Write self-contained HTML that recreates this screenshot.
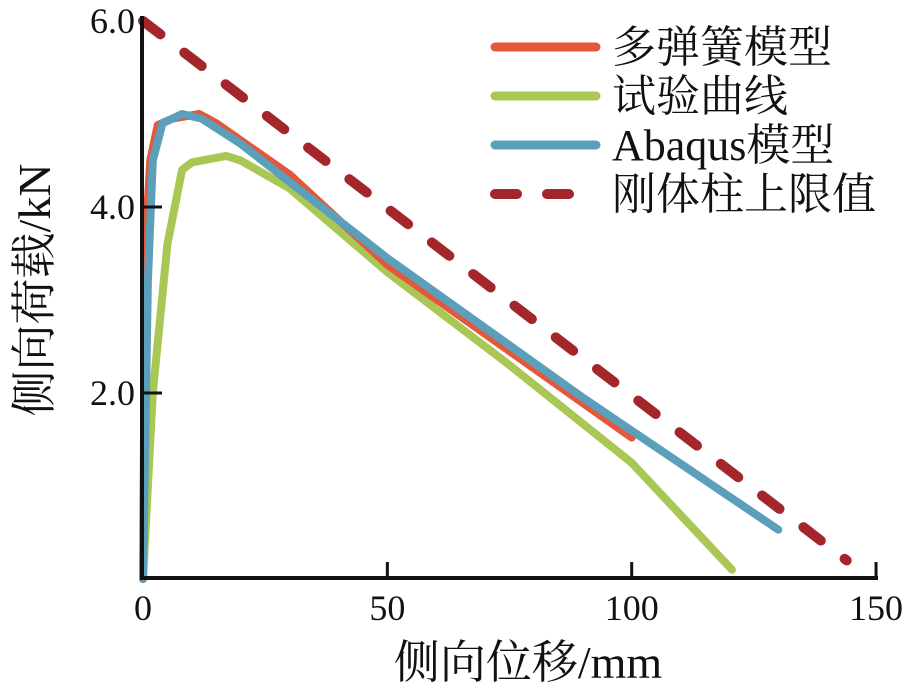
<!DOCTYPE html>
<html><head><meta charset="utf-8"><style>
body{margin:0;background:#fff;}
svg text{font-family:"Liberation Serif","Noto Serif CJK SC",serif;fill:#111;}
</style></head><body>
<svg width="921" height="692">
<g id="plot"></g>
<g>
 <line x1="495" y1="47" x2="596" y2="47" stroke="#e5573a" stroke-width="9" stroke-linecap="round"/>
 <text x="612" y="62" font-size="44">多弹簧模型</text>
 <line x1="495" y1="96" x2="596" y2="96" stroke="#a9c755" stroke-width="9" stroke-linecap="round"/>
 <text x="612" y="111" font-size="44">试验曲线</text>
 <line x1="495" y1="145" x2="596" y2="145" stroke="#5c9fbb" stroke-width="9" stroke-linecap="round"/>
 <text x="612" y="160" font-size="44">Abaqus模型</text>
 <line x1="495" y1="194" x2="596" y2="194" stroke="#a3262a" stroke-width="10" stroke-dasharray="22 30" stroke-linecap="round"/>
 <text x="612" y="209" font-size="44">刚体柱上限值</text>
</g>
</svg>
<script>
const xTicks=[0,50,100,150];
const yTicks=[2.0,4.0,6.0];
const springX=[0,0.5,1.5,3,6,11.5,15,30,50,75,100];
const springY=[0,3.6,4.5,4.88,4.95,5.0,4.9,4.35,3.38,2.45,1.52];
const testX=[0,2,5,8,10,17,20,30,50,75,100,120.5];
const testY=[0,2.0,3.6,4.4,4.48,4.55,4.5,4.2,3.3,2.3,1.25,0.1];
const abaqusX=[0,1,2,4,8,12,20,50,90,130];
const abaqusY=[0,3.2,4.5,4.9,5.0,4.95,4.68,3.45,1.95,0.53];
const rigidX=[0,144];
const rigidY=[6.0,0.2];
const sx=v=>143+v*4.887;
const sy=v=>579-v*93;
const ns="http://www.w3.org/2000/svg";
const g=document.getElementById('plot');
function mk(t,a){const e=document.createElementNS(ns,t);for(const k in a)e.setAttribute(k,a[k]);g.appendChild(e);return e;}
function series(xs,ys,color,w,dash,name){
 const d=xs.map((x,i)=>(i?'L':'M')+sx(x).toFixed(1)+' '+sy(ys[i]).toFixed(1)).join(' ');
 const p=mk('path',{d:d,fill:'none',stroke:color,'stroke-width':w,'stroke-linejoin':'round','stroke-linecap':'round'});
 if(dash)p.setAttribute('stroke-dasharray',dash);
 
 
}
series(rigidX,rigidY,'#a3262a',10,'22 30','rigid-limit-line');
series(testX,testY,'#a9c755',8,null,'test-curve');
series(springX,springY,'#e5573a',8,null,'spring-model-curve');
series(abaqusX,abaqusY,'#5c9fbb',8,null,'abaqus-model-curve');
const ya=mk('line',{x1:142,y1:16,x2:142,y2:580,stroke:'#111','stroke-width':4});


const xa=mk('line',{x1:140,y1:578,x2:878,y2:578,stroke:'#111','stroke-width':4});


xTicks.forEach(v=>{
 if(v>0){const t=mk('line',{x1:sx(v),y1:578,x2:sx(v),y2:562,stroke:'#111','stroke-width':3});
 
 }
 const l=mk('text',{x:sx(v),y:620,'font-size':36,'text-anchor':'middle'});
 l.textContent=v;
 
 
});
yTicks.forEach(v=>{
 if(v<6){const t=mk('line',{x1:142,y1:sy(v),x2:162,y2:sy(v),stroke:'#111','stroke-width':3});
 
 }
 const l=mk('text',{x:135,y:sy(v)+12,'font-size':36,'text-anchor':'end'});
 l.textContent=v.toFixed(1);
 
 
});
const xt=mk('text',{x:528,y:678,'font-size':46,'text-anchor':'middle'});
xt.textContent='侧向位移/mm';


const yt=mk('text',{x:0,y:0,'font-size':46,'text-anchor':'middle',transform:'translate(50,290) rotate(-90)'});
yt.textContent='侧向荷载/kN';


</script>
</body></html>
